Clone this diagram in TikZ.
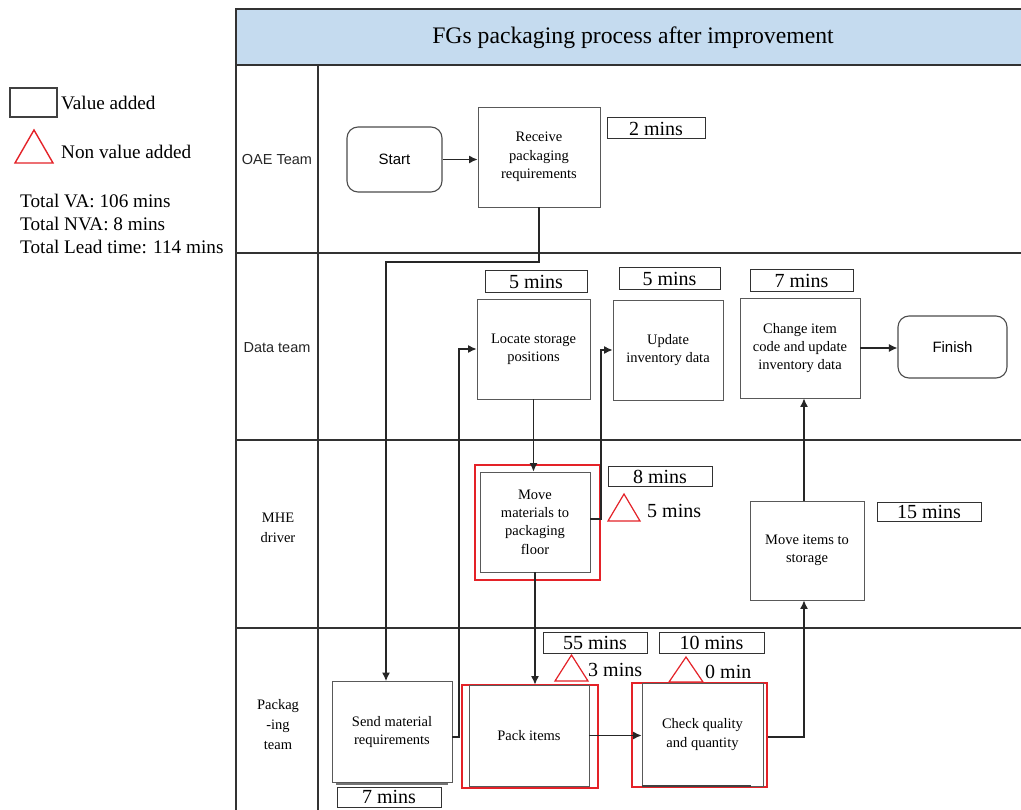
\documentclass[tikz,border=0pt]{standalone}
\usepackage{fontspec}
\setmainfont{Liberation Serif}
\setsansfont{Liberation Sans}
\usetikzlibrary{arrows.meta}
\definecolor{hdr}{RGB}{197,219,239}
\definecolor{nvred}{RGB}{228,34,40}
\definecolor{lnc}{RGB}{50,50,50}
\begin{document}
\begin{tikzpicture}[x=1pt,y=-1pt,
  frame/.style={draw=lnc, line width=1.3pt},
  proc/.style={draw=black!65, line width=0.9pt, fill=white, align=center, inner sep=0pt,
    font=\fontsize{14.5}{18.3}\selectfont},
  term/.style={draw=black!70, line width=1.1pt, rounded corners=11pt, fill=white,
    font=\sffamily\fontsize{15}{18}\selectfont},
  tbox/.style={draw=lnc, line width=1pt, fill=white, inner sep=0pt,
    font=\fontsize{20}{22}\selectfont},
  redbox/.style={draw=nvred, line width=2.6pt},
  tri/.style={draw=nvred, line width=1.2pt, fill=white, line join=miter},
  nva/.style={anchor=west, inner sep=0pt, font=\fontsize{20}{22}\selectfont},
  lanelab/.style={align=center, inner sep=0pt, font=\fontsize{14.5}{20}\selectfont},
  lanesans/.style={inner sep=0pt, font=\sffamily\fontsize{14.5}{18}\selectfont, text=black!85},
  leg/.style={anchor=west, inner sep=0pt, font=\fontsize{19.2}{22}\selectfont},
  conn/.style={draw=black!85, line width=1.2pt},
  arr/.style={draw=black!85, line width=1.2pt, -{Latex[length=8.5pt,width=8pt]}}
]
\useasboundingbox (0,0) rectangle (1021,810);
\fill[white] (0,0) rectangle (1021,810);

% ---------- pool and lanes ----------
\fill[hdr] (236,9) rectangle (1021,65);
\draw[frame] (1021,9) -- (236,9) -- (236,810);
\draw[frame, line width=1.8pt] (236,65) -- (1021,65);
\draw[frame] (236,253) -- (1021,253);
\draw[frame] (236,440) -- (1021,440);
\draw[frame] (236,628) -- (1021,628);
\draw[frame] (318,65) -- (318,810);
\node[inner sep=0pt, font=\fontsize{23.7}{26}\selectfont] (title) at (633,38) {FGs packaging process after improvement};

\node[lanesans] (l1) at (277,160) {OAE Team};
\node[lanesans] (l2) at (277,348) {Data team};
\node[lanelab] (l3) at (278,528) {MHE\\driver};
\node[lanelab] (l4) at (278,725) {Packag\\-ing\\team};

% ---------- legend ----------
\draw[draw=black!75, line width=1.2pt] (10,88) rectangle (57,117);
\node[leg] (lva) at (61,103) {Value added};
\draw[tri, line width=1.4pt] (15,163) -- (34,130) -- (53,163) -- cycle;
\node[leg] (lnva) at (61,152) {Non value added};
\node[leg] (tva) at (20,201) {Total VA: 106 mins};
\node[leg] (tnva) at (20,224) {Total NVA: 8 mins};
\node[leg] (tlt) at (20,247) {Total Lead time: 114 mins};

% ---------- red frames (behind) ----------
\node[redbox, minimum width=125pt, minimum height=115pt] (mmr) at (537.5,522.5) {};
\node[redbox, minimum width=136pt, minimum height=103pt] (packr) at (530,736.5) {};
\node[redbox, minimum width=135pt, minimum height=104pt] (checkr) at (699.5,735) {};

% ---------- process nodes ----------
\node[term, minimum width=95pt, minimum height=65pt] (start) at (394.5,159.5) {Start};
\node[proc, minimum width=122pt, minimum height=100pt] (recv) at (539,157) {Receive\\packaging\\requirements};
\node[proc, minimum width=113pt, minimum height=100pt] (loc) at (533.5,349) {Locate storage\\positions};
\node[proc, minimum width=110pt, minimum height=100pt] (upd) at (668,350) {Update\\inventory data};
\node[proc, minimum width=120pt, minimum height=100pt] (chg) at (800,348) {Change item\\code and update\\inventory data};
\node[term, minimum width=109pt, minimum height=62pt] (fin) at (952.5,347) {Finish};
\node[proc, minimum width=110pt, minimum height=100pt] (mm) at (535,522) {Move\\materials to\\packaging\\floor};
\node[proc, minimum width=114pt, minimum height=99pt] (mis) at (807,550.5) {Move items to\\storage};
\draw[draw=black!55, line width=2.5pt] (336,783.5) -- (448,783.5);
\node[proc, minimum width=120pt, minimum height=101pt] (send) at (392,732) {Send material\\requirements};
\node[proc, minimum width=120pt, minimum height=101pt] (pack) at (529,735.5) {Pack items};
\node[proc, minimum width=121pt, minimum height=103pt] (check) at (702.5,734.5) {Check quality\\and quantity};
\draw[draw=black!75, line width=2pt] (check.south west) -- ([xshift=-12pt]check.south east);

% ---------- time boxes ----------
\node[tbox, minimum width=98pt, minimum height=21pt] (t2) at (656,128.5) {2 mins};
\node[tbox, minimum width=102pt, minimum height=22pt] (t5a) at (536,282) {5 mins};
\node[tbox, minimum width=101pt, minimum height=22pt] (t5b) at (669.5,279) {5 mins};
\node[tbox, minimum width=103pt, minimum height=22pt] (t7a) at (801.5,281) {7 mins};
\node[tbox, minimum width=104pt, minimum height=19pt] (t8) at (660,476.5) {8 mins};
\node[tbox, minimum width=104pt, minimum height=19pt] (t15) at (929,511.5) {15 mins};
\node[tbox, minimum width=104pt, minimum height=21pt] (t55) at (595,642.5) {55 mins};
\node[tbox, minimum width=105pt, minimum height=21pt] (t10) at (711.5,642.5) {10 mins};
\node[tbox, minimum width=104pt, minimum height=20pt] (t7b) at (389,797) {7 mins};

% ---------- non value added marks ----------
\draw[tri] (608,521) -- (624,494) -- (640,521) -- cycle;
\node[nva] (n5) at (647,511) {5 mins};
\draw[tri] (555,681) -- (571.5,655) -- (588,681) -- cycle;
\node[nva] (n3) at (588,670) {3 mins};
\draw[tri] (669,682) -- (686,657) -- (703,682) -- cycle;
\node[nva] (n0) at (705,672) {0 min};

% ---------- connectors ----------
\coordinate (j0) at (386,262);
\coordinate (j1) at (459,737);
\coordinate (j2) at (601,519);
\coordinate (j3) at (804,737);

\draw[arr] (start.east) -- (start.east -| recv.west);
\draw[arr] (recv.south) -- (recv.south |- j0) -- (j0) -- (j0 |- send.north);
\draw[arr] (send.east |- j1) -- (j1) |- (loc.west);
\draw[arr] (loc.south) -- (loc.south |- mm.north);
\draw[arr] (mm.east |- j2) -- (j2) |- (upd.west);
\draw[arr] (mm.south) -- (mm.south |- pack.north);
\draw[arr] (pack.east) -- (pack.east -| check.west);
\draw[arr] (checkr.east |- j3) -- (j3) -- (j3 |- mis.south);
\draw[arr] (j3 |- mis.north) -- (j3 |- chg.south);
\draw[arr] (chg.east) -- (chg.east -| fin.west);
\end{tikzpicture}
\end{document}
